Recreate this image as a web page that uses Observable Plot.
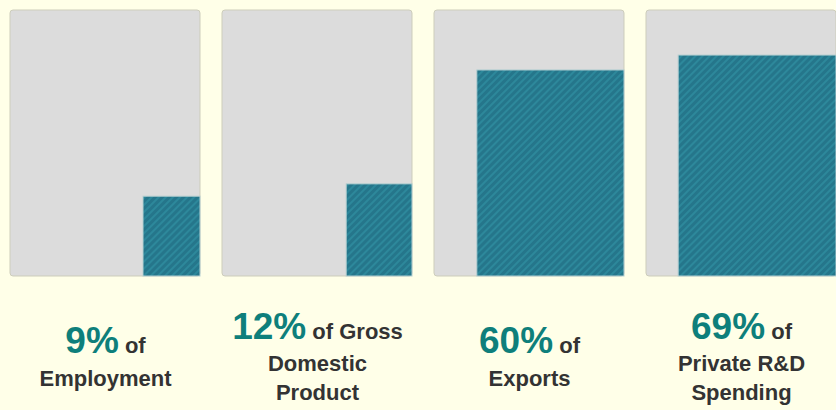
<!DOCTYPE html>
<html><head><meta charset="utf-8">
<script src="https://cdn.jsdelivr.net/npm/d3@7"></script>
<script src="https://cdn.jsdelivr.net/npm/@observablehq/plot@0.6"></script>
<style>
html,body{margin:0;padding:0;background:#FFFFE8;}
#chart{width:836px;height:410px;}
</style></head><body><div id="chart"></div>
<script>
const categories = ["Employment", "Gross Domestic Product", "Exports", "Private R&D Spending"];
const shares = [9, 12, 60, 69];
const labelLines = [
  ["of", "Employment"],
  ["of Gross", "Domestic", "Product"],
  ["of", "Exports"],
  ["of", "Private R&D", "Spending"]
];

const rows = categories.map((c, i) => ({
  category: c,
  share: shares[i],
  label: [`${shares[i]}% ${labelLines[i][0]}`, ...labelLines[i].slice(1)].join("\n")
}));

const side = d => Math.sqrt(d.share / 100);

const plot = Plot.plot({
  width: 836, height: 410,
  marginTop: 10, marginBottom: 134, marginLeft: 9, marginRight: 0,
  fx: {domain: categories, paddingInner: 0.105, paddingOuter: 0, axis: null},
  x: {domain: [0, 1], axis: null},
  y: {domain: [0, 1], axis: null},
  style: {background: "#FFFFE8", fontFamily: "'Liberation Sans', Arial, sans-serif"},
  marks: [
    Plot.rect(rows, {fx: "category", x1: 0, x2: 1, y1: 0, y2: 1, fill: "#dcdcdc", stroke: "#cdcdbb", rx: 3}),
    Plot.rect(rows, {fx: "category", x1: d => 1 - side(d), x2: 1, y1: 0, y2: side, fill: "url(#stripes)", stroke: "#b5cfd1", strokeWidth: 1}),
    Plot.text(rows, {fx: "category", text: "label", frameAnchor: "bottom", lineAnchor: "top", fontSize: 22, fontWeight: "bold", fill: "#333333"})
  ]
});

const svg = d3.select(plot);
const defs = svg.insert("defs", ":first-child");
const pat = defs.append("pattern").attr("id", "stripes").attr("patternUnits", "userSpaceOnUse")
  .attr("width", 5).attr("height", 5).attr("patternTransform", "rotate(45)");
pat.append("rect").attr("width", 5).attr("height", 5).attr("fill", "#25768b");
pat.append("rect").attr("width", 2).attr("height", 5).attr("fill", "#2d889b");

const gaps = [32.5, 29, 29];
svg.selectAll("g[aria-label='text'] text").each(function() {
  const tspans = Array.from(this.querySelectorAll(":scope > tspan"));
  const total = gaps.slice(0, tspans.length - 1).reduce((a, b) => a + b, 0);
  const first = 369 - 276 - total / 2;
  tspans.forEach((t, j) => {
    t.removeAttribute("y");
    t.setAttribute("dy", j === 0 ? first : gaps[j - 1]);
  });
  const m = tspans[0].textContent.match(/^(\S+%)\s(.*)$/);
  if (m) {
    tspans[0].textContent = "";
    d3.select(tspans[0]).append("tspan").attr("fill", "#0e7f7b").attr("font-size", 37).text(m[1]);
    d3.select(tspans[0]).append("tspan").text(" " + m[2]);
  }
});

document.getElementById("chart").appendChild(plot);
</script>
</body></html>
